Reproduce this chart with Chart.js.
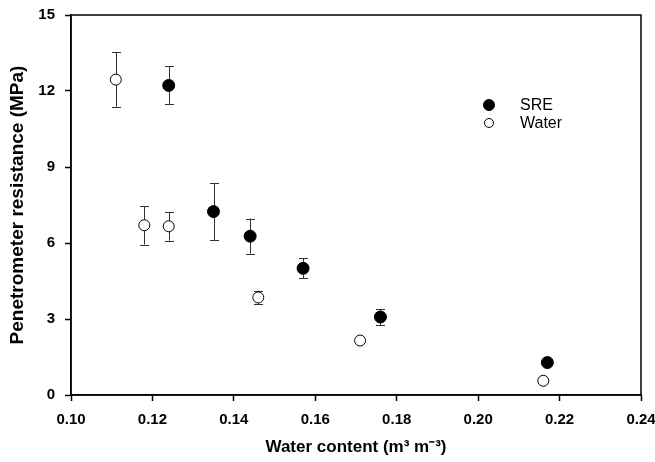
<!DOCTYPE html>
<html>
<head>
<meta charset="utf-8">
<script src="https://cdn.jsdelivr.net/npm/chart.js@4"></script>
<style>
html,body{margin:0;padding:0;background:#fff;}
#wrap{width:655px;height:462px;}
</style>
</head>
<body>
<div id="wrap"><canvas id="c" width="655" height="462"></canvas></div>
<script>
// Data
const sreX = [0.124, 0.135, 0.144, 0.157, 0.176, 0.217];
const sreY = [12.22, 7.24, 6.27, 5.00, 3.08, 1.28];
const sreErr = [0.75, 1.13, 0.69, 0.40, 0.32, 0.10];
const waterX = [0.111, 0.118, 0.124, 0.146, 0.171, 0.216];
const waterY = [12.45, 6.70, 6.66, 3.85, 2.15, 0.56];
const waterErr = [1.07, 0.76, 0.57, 0.27, 0.10, 0.05];
const xTicks = [0.10, 0.12, 0.14, 0.16, 0.18, 0.20, 0.22, 0.24];
const yTicks = [0, 3, 6, 9, 12, 15];
const seriesNames = ['SRE', 'Water'];

const FONT = "'Liberation Sans', Arial, sans-serif";

function pts(xs, ys, es) { return xs.map((x, i) => ({x: x, y: ys[i], e: es[i]})); }

const errorBars = {
  id: 'errorBars',
  beforeDatasetsDraw(chart) {
    const ctx = chart.ctx;
    const xs = chart.scales.x, ys = chart.scales.y;
    ctx.save();
    ctx.strokeStyle = '#333';
    ctx.lineWidth = 1;
    chart.data.datasets.forEach(ds => {
      ds.data.forEach(p => {
        const px = Math.round(xs.getPixelForValue(p.x)) + 0.5;
        const top = ys.getPixelForValue(p.y + p.e);
        const bot = ys.getPixelForValue(p.y - p.e);
        ctx.beginPath();
        ctx.moveTo(px, top); ctx.lineTo(px, bot);
        ctx.moveTo(px - 4.5, Math.round(top) + 0.5); ctx.lineTo(px + 4.5, Math.round(top) + 0.5);
        ctx.moveTo(px - 4.5, Math.round(bot) + 0.5); ctx.lineTo(px + 4.5, Math.round(bot) + 0.5);
        ctx.stroke();
      });
    });
    ctx.restore();
  }
};

const frame = {
  id: 'frame',
  afterDraw(chart) {
    const ctx = chart.ctx, a = chart.chartArea;
    ctx.save();
    ctx.strokeStyle = '#000';
    ctx.lineWidth = 1.5;
    ctx.strokeRect(a.left, a.top, a.right - a.left, a.bottom - a.top);
    // legend
    const lx = 489, ly = 105, gap = 18;
    ctx.font = "16px " + FONT;
    ctx.textBaseline = 'middle';
    chart.data.datasets.forEach((ds, i) => {
      const y = ly + i * gap;
      ctx.beginPath();
      ctx.arc(lx, y, i === 0 ? 5.5 : 4.5, 0, Math.PI * 2);
      ctx.fillStyle = ds.backgroundColor;
      ctx.fill();
      ctx.lineWidth = 1;
      ctx.strokeStyle = '#000';
      ctx.stroke();
      ctx.fillStyle = '#000';
      ctx.fillText(ds.label, 520, y + 1);
    });
    ctx.restore();
  }
};

new Chart(document.getElementById('c'), {
  type: 'scatter',
  data: {
    datasets: [
      { label: seriesNames[0], data: pts(sreX, sreY, sreErr), backgroundColor: '#000', borderColor: '#000', borderWidth: 1, pointRadius: 6, pointHoverRadius: 6 },
      { label: seriesNames[1], data: pts(waterX, waterY, waterErr), backgroundColor: '#fff', borderColor: '#000', borderWidth: 1, pointRadius: 5.5, pointHoverRadius: 5.5 }
    ]
  },
  options: {
    responsive: false,
    animation: false,
    devicePixelRatio: 1,
    layout: { padding: { top: 15, right: 14, left: 0, bottom: 0 } },
    plugins: { legend: { display: false }, tooltip: { enabled: false } },
    scales: {
      x: {
        type: 'linear', min: 0.10, max: 0.24,
        afterBuildTicks(s) { s.ticks = xTicks.map(v => ({value: v})); },
        afterFit(s) { s.height = 67; s.paddingLeft = 0; s.paddingRight = 0; },
        grid: { drawOnChartArea: false, drawTicks: true, tickLength: 6, tickColor: '#000', tickWidth: 1.5 },
        border: { display: true, color: '#000', width: 1.5 },
        ticks: { color: '#000', font: { family: FONT, size: 15, weight: 'bold' }, padding: 10, maxRotation: 0, callback: v => v.toFixed(2) },
        title: { display: true, text: 'Water content (m³ m⁻³)', color: '#000', font: { family: FONT, size: 17, weight: 'bold' }, padding: { top: 0, bottom: 4 } }
      },
      y: {
        type: 'linear', min: 0, max: 15,
        afterBuildTicks(s) { s.ticks = yTicks.map(v => ({value: v})); },
        afterFit(s) { s.width = 71; s.paddingTop = 0; s.paddingBottom = 0; },
        grid: { drawOnChartArea: false, drawTicks: true, tickLength: 6, tickColor: '#000', tickWidth: 1.5 },
        border: { display: true, color: '#000', width: 1.5 },
        ticks: { color: '#000', font: { family: FONT, size: 15, weight: 'bold' }, padding: 10 },
        title: { display: true, text: 'Penetrometer resistance (MPa)', color: '#000', font: { family: FONT, size: 19, weight: 'bold' }, padding: { top: 6, bottom: 0 } }
      }
    }
  },
  plugins: [errorBars, frame]
});
</script>
</body>
</html>
